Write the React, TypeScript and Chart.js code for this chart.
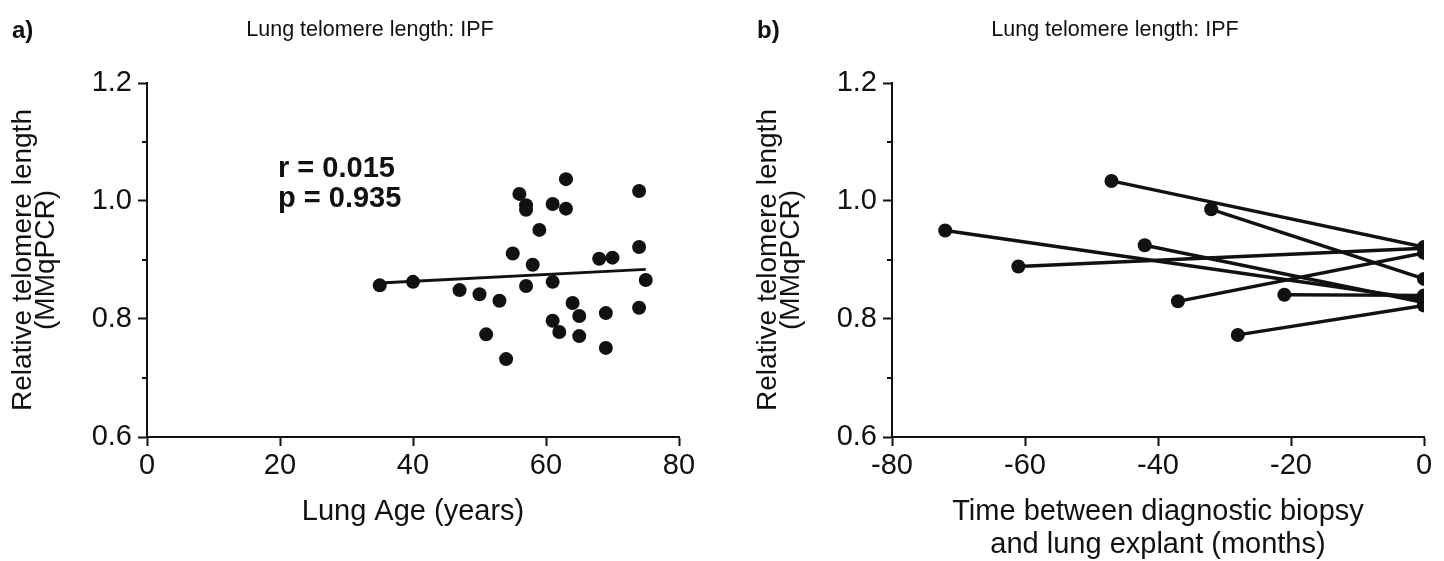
import React, { useEffect, useRef } from "react";
import { Chart, registerables } from "chart.js";

Chart.register(...registerables);

// ---------- Data ----------
const lungAge = [35, 40, 47, 50, 53, 51, 54, 55, 56, 57, 57, 57, 58, 59, 61, 61, 61, 62, 63, 63, 64, 65, 65, 68, 69, 69, 70, 74, 74, 74, 75];
const telomereA = [0.857, 0.863, 0.849, 0.842, 0.831, 0.774, 0.732, 0.911, 1.012, 0.993, 0.985, 0.856, 0.892, 0.951, 0.995, 0.863, 0.797, 0.778, 1.037, 0.987, 0.827, 0.805, 0.771, 0.902, 0.810, 0.751, 0.904, 1.017, 0.922, 0.819, 0.866];
const regressionX = [35, 75];
const regressionY = [0.861, 0.884];

const biopsyMonths = [-72, -61, -47, -42, -37, -32, -28, -21];
const biopsyTelomere = [0.950, 0.889, 1.034, 0.925, 0.830, 0.986, 0.773, 0.841];
const explantMonths = [0, 0, 0, 0, 0, 0, 0, 0];
const explantTelomere = [0.833, 0.920, 0.922, 0.828, 0.912, 0.868, 0.823, 0.840];

const yMajorTicks = [0.6, 0.8, 1.0, 1.2];
const yMinorTicks = [0.7, 0.9, 1.1];
const xTicksA = [0, 20, 40, 60, 80];
const xTicksB = [-80, -60, -40, -20, 0];

const titleText = "Lung telomere length: IPF";
const yTitle = ["Relative telomere length", "(MMqPCR)"];
const xTitleA = "Lung Age (years)";
const xTitleB = ["Time between diagnostic biopsy", "and lung explant (months)"];
const statsText = ["r = 0.015", "p = 0.935"];

const FONT = '"Liberation Sans", Arial, Helvetica, sans-serif';
const INK = "#111";

function makeTextPlugin(panel: string, withStats: boolean) {
  return {
    id: "panelText" + panel,
    afterDraw(chart: any) {
      const ctx = chart.ctx;
      const ys = chart.scales.y;
      const xs = chart.scales.x;
      ctx.save();
      ctx.fillStyle = INK;
      ctx.textBaseline = "middle";
      ctx.textAlign = "left";
      ctx.font = `bold 24px ${FONT}`;
      ctx.fillText(panel, 12, 31);
      ctx.font = `21.5px ${FONT}`;
      ctx.textAlign = "center";
      ctx.fillText(titleText, 370, 30);
      // minor ticks
      ctx.strokeStyle = INK;
      ctx.lineWidth = 2;
      const left = chart.chartArea.left;
      yMinorTicks.forEach((v) => {
        const py = Math.round(ys.getPixelForValue(v));
        ctx.beginPath();
        ctx.moveTo(left - 5, py);
        ctx.lineTo(left, py);
        ctx.stroke();
      });
      if (withStats) {
        ctx.font = `bold 29px ${FONT}`;
        ctx.textAlign = "left";
        ctx.textBaseline = "alphabetic";
        const px = xs.getPixelForValue(19.7);
        ctx.fillText(statsText[0], px, ys.getPixelForValue(1.041));
        ctx.fillText(statsText[1], px, ys.getPixelForValue(0.99));
      }
      ctx.restore();
    },
  };
}

function baseOptions(xMin: number, xMax: number, xTicks: number[], xTitle: string | string[], xTitlePadBottom: number, padRight: number): any {
  return {
    responsive: true,
    maintainAspectRatio: false,
    animation: false,
    layout: { padding: { top: 83, right: padRight, bottom: 0, left: 0 } },
    plugins: { legend: { display: false }, tooltip: { enabled: false }, title: { display: false } },
    scales: {
      x: {
        type: "linear",
        min: xMin,
        max: xMax,
        afterBuildTicks: (s: any) => {
          s.ticks = xTicks.map((v) => ({ value: v }));
        },
        afterFit: (s: any) => {
          s.height = 124;
        },
        ticks: {
          color: INK,
          font: { family: FONT, size: 29 },
          padding: 3,
          maxRotation: 0,
          autoSkip: false,
          callback: (v: number) => String(v),
        },
        grid: { drawOnChartArea: false, drawTicks: true, tickLength: 9, tickColor: INK, tickWidth: 2 },
        border: { color: INK, width: 2 },
        title: {
          display: true,
          text: xTitle,
          color: INK,
          font: { family: FONT, size: 29, lineHeight: 1.12 },
          padding: { top: 0, bottom: xTitlePadBottom },
        },
      },
      y: {
        type: "linear",
        min: 0.6,
        max: 1.2,
        afterBuildTicks: (s: any) => {
          s.ticks = yMajorTicks.map((v) => ({ value: v }));
        },
        afterFit: (s: any) => {
          s.width = 147;
        },
        ticks: {
          color: INK,
          font: { family: FONT, size: 29 },
          padding: 6,
          autoSkip: false,
          callback: (v: number) => v.toFixed(1),
        },
        grid: { drawOnChartArea: false, drawTicks: true, tickLength: 9, tickColor: INK, tickWidth: 2 },
        border: { color: INK, width: 2 },
        title: {
          display: true,
          text: yTitle,
          color: INK,
          font: { family: FONT, size: 28, lineHeight: 0.82 },
          padding: { top: 12, bottom: 0 },
        },
      },
    },
  };
}

function ChartA() {
  const ref = useRef<HTMLCanvasElement | null>(null);
  useEffect(() => {
    if (!ref.current) return;
    const points = lungAge.map((x, i) => ({ x, y: telomereA[i] }));
    const reg = regressionX.map((x, i) => ({ x, y: regressionY[i] }));
    const chart = new Chart(ref.current, {
      type: "scatter",
      data: {
        datasets: [
          {
            data: points,
            pointRadius: 7,
            pointBackgroundColor: INK,
            pointBorderWidth: 0,
            showLine: false,
            order: 1,
          },
          {
            data: reg,
            showLine: true,
            borderColor: INK,
            borderWidth: 2.8,
            pointRadius: 0,
            order: 2,
          },
        ],
      } as any,
      options: baseOptions(0, 80, xTicksA, xTitleA, 33, 66),
      plugins: [makeTextPlugin("a)", true)],
    });
    return () => chart.destroy();
  }, []);
  return <canvas ref={ref} />;
}

function ChartB() {
  const ref = useRef<HTMLCanvasElement | null>(null);
  useEffect(() => {
    if (!ref.current) return;
    const datasets = biopsyMonths.map((x, i) => ({
      data: [
        { x, y: biopsyTelomere[i] },
        { x: explantMonths[i], y: explantTelomere[i] },
      ],
      showLine: true,
      borderColor: INK,
      borderWidth: 3.4,
      pointRadius: 7,
      pointBackgroundColor: INK,
      pointBorderWidth: 0,
    }));
    const chart = new Chart(ref.current, {
      type: "scatter",
      data: { datasets } as any,
      options: baseOptions(-80, 0, xTicksB, xTitleB, 0, 20),
      plugins: [makeTextPlugin("b)", false)],
    });
    return () => chart.destroy();
  }, []);
  return <canvas ref={ref} />;
}

export default function App() {
  return (
    <div style={{ position: "fixed", left: 0, top: 0, width: 1444, height: 561, overflow: "hidden", background: "#fff" }}>
      <div style={{ position: "absolute", left: 0, top: 0, width: 745, height: 561 }}>
        <ChartA />
      </div>
      <div style={{ position: "absolute", left: 745, top: 0, width: 699, height: 561 }}>
        <ChartB />
      </div>
    </div>
  );
}
